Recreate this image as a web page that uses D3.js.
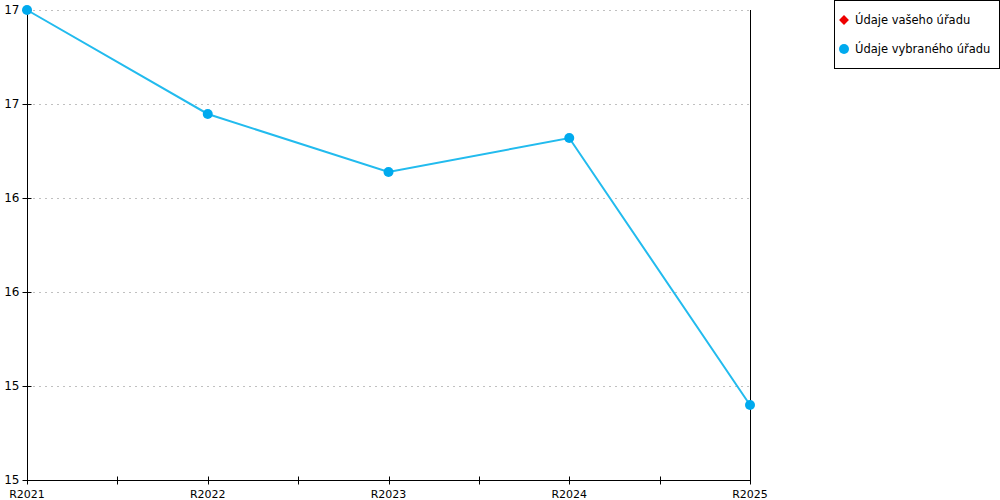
<!DOCTYPE html>
<html><head><meta charset="utf-8">
<script src="https://cdn.jsdelivr.net/npm/d3@7"></script>
<style>body{margin:0;background:#fff}svg{display:block;font-family:"DejaVu Sans",sans-serif}</style>
</head><body><svg id="c" width="1000" height="500"></svg>
<script>
const categories = ["R2021","R2022","R2023","R2024","R2025"];
const seriesSelected = [17.5, 16.947, 16.638, 16.819, 15.399];
const yTicks = [15, 15.5, 16, 16.5, 17, 17.5];
const yTickLabels = ["15","15","16","16","17","17"];
const legendLabels = ["Údaje vašeho úřadu","Údaje vybraného úřadu"];

const svg = d3.select("#c");
const m = {l:27, r:250, t:10, b:20};
const W = 1000, H = 500;
const x = d3.scalePoint().domain(categories).range([m.l, W - m.r]);
const y = d3.scaleLinear().domain([15, 17.5]).range([H - m.b, m.t]);

// grid
svg.append("g").selectAll("line").data(yTicks.slice(1)).join("line")
  .attr("x1", m.l).attr("x2", W - m.r)
  .attr("y1", d => Math.round(y(d)) + 0.5).attr("y2", d => Math.round(y(d)) + 0.5)
  .attr("stroke", "#c0c0c0").attr("stroke-dasharray", "2,4");

// left axis
const yAxis = svg.append("g").attr("transform", `translate(${m.l + 0.5},0)`);
yAxis.append("line").attr("y1", m.t).attr("y2", H - m.b).attr("stroke", "#000");
yAxis.selectAll("line.t").data(yTicks).join("line").attr("class","t")
  .attr("x1", -5).attr("x2", 4)
  .attr("y1", d => Math.round(y(d)) + 0.5).attr("y2", d => Math.round(y(d)) + 0.5).attr("stroke", "#000");
yAxis.selectAll("text").data(yTicks).join("text")
  .attr("x", -8).attr("y", d => y(d)).attr("dy", "0.35em")
  .attr("text-anchor", "end").attr("font-size", 12).text((d,i) => yTickLabels[i]);

// right line
svg.append("line").attr("x1", W - m.r + 0.5).attr("x2", W - m.r + 0.5)
  .attr("y1", m.t).attr("y2", H - m.b).attr("stroke", "#000");

// bottom axis
const bx = svg.append("g").attr("transform", `translate(0,${H - m.b + 0.5})`);
bx.append("line").attr("x1", m.l).attr("x2", W - m.r).attr("stroke", "#000");
const step = x.step();
const tickPos = [];
categories.forEach((c,i) => { tickPos.push(x(c)); if (i < categories.length - 1) tickPos.push(x(c) + step/2); });
bx.selectAll("line.t").data(tickPos).join("line").attr("class","t")
  .attr("x1", d => Math.round(d) + 0.5).attr("x2", d => Math.round(d) + 0.5)
  .attr("y1", -4).attr("y2", 4).attr("stroke", "#000");
bx.selectAll("text").data(categories).join("text")
  .attr("x", d => x(d)).attr("y", 14).attr("dy", "0.35em")
  .attr("text-anchor", "middle").attr("font-size", 11).text(d => d);

// series line
const line = d3.line().x((d,i) => x(categories[i])).y(d => y(d));
svg.append("path").datum(seriesSelected).attr("d", line)
  .attr("fill", "none").attr("stroke", "#22bbee").attr("stroke-width", 2);
svg.append("g").selectAll("circle").data(seriesSelected).join("circle")
  .attr("cx", (d,i) => x(categories[i])).attr("cy", d => y(d)).attr("r", 5)
  .attr("fill", "#00aaee");

// legend
const lg = svg.append("g");
lg.append("rect").attr("x", 834.5).attr("y", 0.5).attr("width", 165).attr("height", 68)
  .attr("fill", "#fff").attr("stroke", "#000");
lg.append("rect").attr("x", -3.5).attr("y", -3.5).attr("width", 7).attr("height", 7)
  .attr("transform", "translate(844,20) rotate(45)").attr("fill", "#ee0000");
lg.append("circle").attr("cx", 844).attr("cy", 49).attr("r", 5).attr("fill", "#00aaee");
lg.selectAll("text").data(legendLabels).join("text")
  .attr("x", 855).attr("y", (d,i) => 20 + i*29).attr("dy", "0.35em")
  .attr("font-size", 11.5).text(d => d);
</script></body></html>
